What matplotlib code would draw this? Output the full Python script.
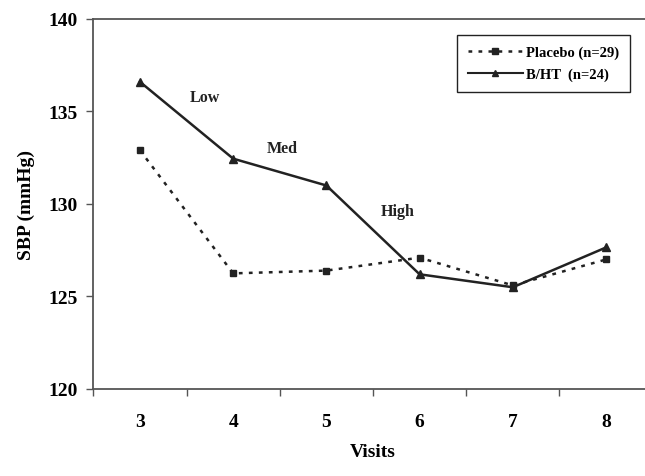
import matplotlib
matplotlib.use("Agg")
import matplotlib.pyplot as plt
from matplotlib.lines import Line2D

visits = [3, 4, 5, 6, 7, 8]
placebo = [132.9, 126.25, 126.4, 127.1, 125.6, 127.0]
bht = [136.6, 132.45, 131.0, 126.2, 125.5, 127.65]
labels_series = ["Placebo (n=29)", "B/HT  (n=24)"]
dose_labels = ["Low", "Med", "High"]
dose_x = [3.70, 4.53, 5.76]
dose_y = [135.8, 133.0, 129.6]

plt.rcParams['font.family'] = ['Liberation Serif', 'DejaVu Serif']
plt.rcParams['font.weight'] = 'bold'

fig = plt.figure(figsize=(6.45, 4.77), dpi=100)
W, H = 645, 477
ax = fig.add_axes([93.4 / W, (H - 390) / H, 559.2 / W, 370 / H])

dark = '#222222'
ax.plot(visits, placebo, linestyle=(0, (1.5, 2.5)), color=dark, lw=1.8,
        marker='s', markersize=5, markerfacecolor=dark, markeredgecolor=dark)
ax.plot(visits, bht, linestyle='-', color=dark, lw=1.8,
        marker='^', markersize=5.5, markerfacecolor=dark, markeredgecolor=dark)

for t, x, y in zip(dose_labels, dose_x, dose_y):
    ax.text(x, y, t, ha='center', va='center', fontsize=11.5, fontweight='bold', color=dark)

ax.set_xlim(2.5, 8.5)
ax.set_ylim(120, 140)
ax.set_xticks([2.5 + i for i in range(7)])
ax.set_xticklabels([])
ax.set_xticks(visits, minor=True)
ax.set_xticklabels([str(v) for v in visits], minor=True)
ax.tick_params(axis='x', which='major', direction='out', length=5, width=1, color='#555555')
ax.tick_params(axis='x', which='minor', length=0, pad=17, labelsize=14)
ax.set_yticks([120, 125, 130, 135, 140])
ax.tick_params(axis='y', direction='out', length=5, width=1, pad=6, labelsize=14, color='#555555')
for lab in ax.get_xticklabels(minor=True) + ax.get_yticklabels():
    lab.set_fontweight('bold')

ax.spines['right'].set_visible(False)
for s in ['left', 'bottom', 'top']:
    ax.spines[s].set_color('#555555')
    ax.spines[s].set_linewidth(1.3)

ax.set_xlabel("Visits", fontsize=14, fontweight='bold', labelpad=10)
ax.set_ylabel("SBP (mmHg)", fontsize=14, fontweight='bold', labelpad=10)

handles = [
    Line2D([], [], linestyle=(0, (1.5, 2.5)), color=dark, lw=1.8, marker='s', markersize=5),
    Line2D([], [], linestyle='-', color=dark, lw=1.5, marker='^', markersize=4),
]
leg = fig.legend(handles, labels_series, loc='upper right',
                 bbox_to_anchor=(630 / W, 1 - 36 / H), bbox_transform=fig.transFigure,
                 prop={'family': 'Liberation Serif', 'weight': 'bold', 'size': 10.5},
                 frameon=True, fancybox=False, edgecolor='#222222', framealpha=1,
                 handlelength=3.8, handletextpad=0.2, borderpad=0.75, labelspacing=0.55,
                 borderaxespad=0)
leg.get_frame().set_linewidth(1.0)

fig.savefig("out.png", dpi=100)
